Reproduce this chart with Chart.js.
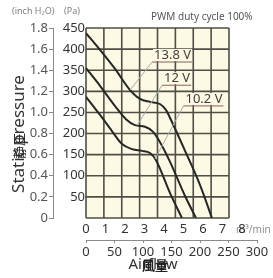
<!DOCTYPE html>
<html>
<head>
<meta charset="utf-8">
<script src="https://cdn.jsdelivr.net/npm/chart.js@4"></script>
<style>
  html, body { margin: 0; padding: 0; background: #fff; }
</style>
</head>
<body>
<canvas id="pqChart" width="273" height="278"></canvas>
<script>
// Airflow (m3/min) / static pressure (Pa)
const flow138 = [0, 0.72, 1.49, 2.26, 2.77, 3.28, 3.79, 4.10, 4.36, 5.08, 5.85, 6.46];
const pres138 = [438, 398, 353, 303, 282, 275, 270, 256, 232, 159, 78, 0];
const flow120 = [0, 0.72, 1.49, 2.05, 2.51, 3.03, 3.44, 3.79, 4.31, 5.08, 5.64];
const pres120 = [355, 313, 265, 234, 220, 216, 204, 180, 133, 52, 0];
const flow102 = [0, 0.72, 1.33, 1.85, 2.36, 2.87, 3.28, 3.59, 4.31, 4.92];
const pres102 = [287, 244, 206, 175, 163, 159, 154, 137, 59, 0];
const voltages = ["13.8 V", "12 V", "10.2 V"];

// tick labels
const flowTicks = [0, 1, 2, 3, 4, 5, 6, 7, 8];
const cfmTicks = [0, 50, 100, 150, 200, 250, 300];
const paTicks = [50, 100, 150, 200, 250, 300, 350, 400, 450];
const inchTicks = [0, 0.2, 0.4, 0.6, 0.8, 1.0, 1.2, 1.4, 1.6, 1.8];

const FONT = "'Noto Sans', sans-serif";
Chart.defaults.font.family = FONT;

const series = [
  { flow: flow138, pres: pres138 },
  { flow: flow120, pres: pres120 },
  { flow: flow102, pres: pres102 },
];

// where the curve names sit (data units) and where their leaders touch the curve
const callouts = [
  { s: 0, at: [4.44, 386], to: 2.26 },
  { s: 1, at: [4.67, 331], to: 2.62 },
  { s: 2, at: [6.05, 282], to: 3.54 },
];

function presAt(s, u) {
  const f = series[s].flow, p = series[s].pres;
  for (let i = 1; i < f.length; i++) {
    if (u <= f[i]) {
      const t = (u - f[i - 1]) / (f[i] - f[i - 1]);
      return p[i - 1] + t * (p[i] - p[i - 1]);
    }
  }
  return p[p.length - 1];
}

// cream box with an 8 x 9 grid
const gridPlugin = {
  id: "pqGrid",
  beforeDraw(chart) {
    // unit text sits under the last flow label
    const ctx = chart.ctx;
    ctx.save();
    ctx.fillStyle = "#8c8c8c";
    ctx.font = "10px " + FONT;
    ctx.textBaseline = "middle";
    ctx.fillText("m\u00b3/min", 236, 230);
    ctx.restore();
  },
  beforeDatasetsDraw(chart) {
    const ctx = chart.ctx;
    const xg = chart.scales.xg, y = chart.scales.y;
    const left = xg.getPixelForValue(0), right = xg.getPixelForValue(8);
    const top = y.getPixelForValue(450), bottom = y.getPixelForValue(0);
    ctx.save();
    ctx.fillStyle = "#fcf9e4";
    ctx.fillRect(left, top, right - left, bottom - top);
    ctx.strokeStyle = "#4f4f46";
    ctx.lineWidth = 1.6;
    ctx.beginPath();
    [0].concat(paTicks).forEach(v => {
      const py = y.getPixelForValue(v);
      ctx.moveTo(left, py);
      ctx.lineTo(right, py);
    });
    for (let k = 0; k <= 8; k++) {
      const px = xg.getPixelForValue(k);
      ctx.moveTo(px, top);
      ctx.lineTo(px, bottom);
    }
    ctx.stroke();
    ctx.restore();
  }
};

const textPlugin = {
  id: "pqText",
  afterDraw(chart) {
    const ctx = chart.ctx;
    const x = chart.scales.x, y = chart.scales.y;
    ctx.save();

    // curve names with underline + leader
    ctx.font = "13px " + FONT;
    ctx.textBaseline = "middle";
    ctx.textAlign = "center";
    callouts.forEach(c => {
      const tx = x.getPixelForValue(c.at[0]);
      const ty = y.getPixelForValue(c.at[1]);
      const w = ctx.measureText(voltages[c.s]).width;
      const ul = ty + 7;
      ctx.strokeStyle = "#a9a9a9";
      ctx.lineWidth = 1;
      ctx.beginPath();
      ctx.moveTo(tx - w / 2 - 2, ul);
      ctx.lineTo(x.getPixelForValue(c.to), y.getPixelForValue(presAt(c.s, c.to)));
      ctx.stroke();
      ctx.fillStyle = "#fcf9e4";
      ctx.fillRect(tx - w / 2 - 1, ty - 6, w + 2, 12);
      ctx.strokeStyle = "#8a6262";
      ctx.beginPath();
      ctx.moveTo(tx - w / 2 - 2, ul);
      ctx.lineTo(tx + w / 2 + 1, ul);
      ctx.stroke();
      ctx.fillStyle = "#4a3a3a";
      ctx.fillText(voltages[c.s], tx, ty);
    });

    // small captions
    ctx.textAlign = "left";
    ctx.fillStyle = "#808080";
    ctx.font = "9px " + FONT;
    ctx.fillText("(inch H\u2082O)", 12, 11);
    ctx.fillText("(Pa)", 64, 11);
    ctx.fillStyle = "#555";
    ctx.font = "10px " + FONT;
    ctx.fillText("PWM duty cycle 100%", 151, 17);

    // axis titles (English with Japanese laid over)
    ctx.textAlign = "center";
    ctx.fillStyle = "#333";
    ctx.font = "15px " + FONT;
    ctx.fillText("Airflow", 153, 265);
    ctx.fillStyle = "#222";
    ctx.font = "bold 13px 'Noto Sans CJK JP'";
    ctx.fillText("\u98a8\u91cf", 155, 265);

    ctx.translate(19, 134);
    ctx.rotate(-Math.PI / 2);
    ctx.fillStyle = "#333";
    ctx.font = "17px " + FONT;
    ctx.fillText("Static pressure", 0, 0);
    ctx.fillStyle = "#222";
    ctx.font = "13px 'Noto Sans CJK JP'";
    ctx.fillText("\u9759\u5727", -12, 0);
    ctx.restore();
  }
};

new Chart(document.getElementById("pqChart"), {
  type: "line",
  data: {
    datasets: series.map((s, i) => ({
      label: voltages[i],
      data: s.flow.map((f, j) => ({ x: f, y: s.pres[j] })),
      borderColor: "#262626",
      borderWidth: 2,
      pointRadius: 0,
      cubicInterpolationMode: "monotone",
      xAxisID: "x",
      yAxisID: "y",
    })),
  },
  options: {
    responsive: false,
    animation: false,
    layout: { padding: { top: 28, right: 16, bottom: 0, left: 0 } },
    plugins: { legend: { display: false }, tooltip: { enabled: false } },
    scales: {
      x: {
        type: "linear", position: "bottom", weight: 0, min: 0, max: 8.77,
        afterBuildTicks: s => { s.ticks = flowTicks.map(v => ({ value: v })); },
        afterFit: s => { s.height = 22; },
        grid: { display: false, drawTicks: false }, border: { display: false },
        ticks: { padding: 3, color: "#333", font: { size: 13 }, autoSkip: false, maxRotation: 0 },
      },
      x2: {
        type: "linear", position: "bottom", weight: 1, min: 0, max: 300,
        afterBuildTicks: s => { s.ticks = cfmTicks.map(v => ({ value: v })); },
        afterFit: s => { s.height = 38; },
        grid: { display: true, drawOnChartArea: false, tickLength: 3, color: "#8a8a8a" },
        border: { display: true, color: "#8a8a8a" },
        ticks: { padding: 1, color: "#333", font: { size: 13 }, autoSkip: false, maxRotation: 0 },
      },
      xg: { type: "linear", display: false, min: 0, max: 8 * 171 / 143 },
      y: {
        position: "left", weight: 0, min: 0, max: 450,
        afterBuildTicks: s => { s.ticks = paTicks.map(v => ({ value: v })); },
        afterFit: s => { s.width = 33; },
        grid: { display: false, drawTicks: false }, border: { display: false },
        ticks: { padding: 1, color: "#333", font: { size: 13 } },
      },
      yin: {
        position: "left", weight: 1, min: 0, max: 1.8,
        afterBuildTicks: s => { s.ticks = inchTicks.map(v => ({ value: v })); },
        afterFit: s => { s.width = 53; },
        grid: { display: true, drawOnChartArea: false, tickLength: 4, color: "#8a8a8a" },
        border: { display: true, color: "#8a8a8a" },
        ticks: { padding: 1, color: "#555", font: { size: 13 },
                 callback: v => (v === 0 ? "0" : v.toFixed(1)) },
      },
    },
  },
  plugins: [gridPlugin, textPlugin],
});
</script>
</body>
</html>
